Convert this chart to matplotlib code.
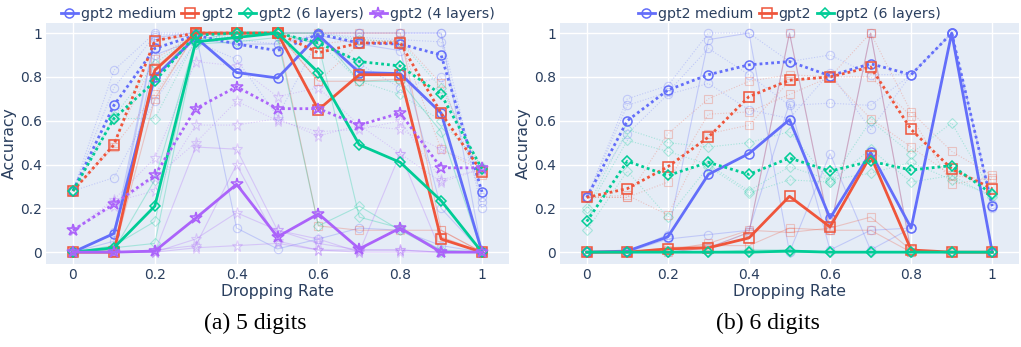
import matplotlib
matplotlib.use("Agg")
import matplotlib.pyplot as plt
from matplotlib.lines import Line2D

# ---------------- data ----------------
rates = [0.0, 0.1, 0.2, 0.3, 0.4, 0.5, 0.6, 0.7, 0.8, 0.9, 1.0]
tick_vals = [0, 0.2, 0.4, 0.6, 0.8, 1]
tick_labels = ["0", "0.2", "0.4", "0.6", "0.8", "1"]
model_names = ["gpt2 medium", "gpt2", "gpt2 (6 layers)", "gpt2 (4 layers)"]
model_colors = ["#636EFA", "#EF553B", "#00CC96", "#AB63FA"]
model_markers = ["o", "s", "D", "*"]

# (a) 5 digits - bold dotted (average) lines
a_med_dot = [0.28, 0.67, 0.93, 0.99, 0.95, 0.92, 0.995, 0.955, 0.95, 0.90, 0.275]
a_gpt2_dot = [0.28, 0.49, 0.965, 1.0, 1.0, 1.0, 0.91, 0.955, 0.955, 0.635, 0.365]
a_l6_dot = [0.28, 0.61, 0.78, 0.99, 1.0, 1.0, 0.955, 0.87, 0.85, 0.72, 0.38]
a_l4_dot = [0.10, 0.22, 0.35, 0.655, 0.755, 0.655, 0.655, 0.58, 0.635, 0.385, 0.385]
# (a) 5 digits - bold solid lines
a_med_sol = [0.0, 0.085, 0.80, 0.98, 0.82, 0.795, 0.99, 0.82, 0.815, 0.635, 0.0]
a_gpt2_sol = [0.0, 0.0, 0.83, 1.0, 1.0, 1.0, 0.65, 0.81, 0.81, 0.06, 0.0]
a_l6_sol = [0.0, 0.02, 0.21, 0.96, 0.98, 1.0, 0.82, 0.49, 0.41, 0.235, 0.0]
a_l4_sol = [0.0, 0.0, 0.005, 0.155, 0.31, 0.07, 0.175, 0.015, 0.11, 0.0, 0.0]

# (a) faint runs
a_med_faint_dot = [
    [0.28, 0.83, 1.0, 1.0, 1.0, 1.0, 1.0, 1.0, 1.0, 1.0, 0.23],
    [0.28, 0.75, 0.99, 1.0, 0.97, 0.95, 1.0, 0.98, 0.97, 0.96, 0.20],
    [0.28, 0.34, 0.69, 0.96, 0.88, 0.62, 0.97, 0.86, 0.75, 0.80, 0.25],
]
a_med_faint_sol = [
    [0.0, 0.09, 0.98, 1.0, 0.11, 0.015, 0.06, 0.11, 0.10, 0.03, 0.0],
    [0.0, 0.05, 0.97, 0.99, 1.0, 1.0, 1.0, 1.0, 1.0, 1.0, 0.0],
    [0.0, 0.0, 0.90, 0.97, 0.95, 0.95, 0.99, 0.95, 0.92, 0.20, 0.0],
]
a_gpt2_faint_dot = [
    [0.28, 0.50, 0.88, 1.0, 1.0, 1.0, 0.78, 0.95, 0.97, 0.77, 0.35],
    [0.28, 0.48, 0.72, 0.99, 1.0, 1.0, 0.95, 0.97, 0.96, 0.47, 0.37],
]
a_gpt2_faint_sol = [
    [0.0, 0.0, 0.84, 1.0, 1.0, 1.0, 0.12, 0.10, 0.10, 0.10, 0.0],
    [0.0, 0.0, 0.70, 1.0, 1.0, 1.0, 0.78, 0.78, 0.79, 0.07, 0.0],
    [0.0, 0.0, 0.80, 1.0, 1.0, 1.0, 1.0, 1.0, 1.0, 0.10, 0.0],
]
a_l6_faint_dot = [
    [0.28, 0.61, 0.61, 0.97, 0.99, 1.0, 0.96, 0.78, 0.72, 0.60, 0.39],
    [0.28, 0.62, 0.86, 1.0, 1.0, 1.0, 1.0, 0.97, 0.96, 0.75, 0.38],
]
a_l6_faint_sol = [
    [0.0, 0.02, 0.04, 0.95, 0.96, 0.98, 0.12, 0.21, 0.10, 0.0, 0.0],
    [0.0, 0.03, 0.14, 0.96, 0.98, 1.0, 0.95, 0.16, 0.11, 0.01, 0.0],
    [0.0, 0.01, 0.33, 0.97, 1.0, 1.0, 1.0, 0.78, 0.78, 0.55, 0.0],
]
a_l4_faint_dot = [
    [0.10, 0.24, 0.43, 0.87, 0.85, 0.71, 0.75, 0.58, 0.56, 0.47, 0.39],
    [0.10, 0.23, 0.28, 0.58, 0.58, 0.61, 0.53, 0.58, 0.45, 0.32, 0.38],
    [0.10, 0.21, 0.34, 0.50, 0.69, 0.60, 0.55, 0.56, 0.60, 0.33, 0.38],
]
a_l4_faint_sol = [
    [0.0, 0.0, 0.0, 0.48, 0.47, 0.10, 0.06, 0.0, 0.45, 0.0, 0.0],
    [0.0, 0.0, 0.0, 0.06, 0.18, 0.10, 0.04, 0.01, 0.01, 0.0, 0.0],
    [0.0, 0.0, 0.01, 0.03, 0.40, 0.05, 0.01, 0.01, 0.01, 0.0, 0.0],
    [0.0, 0.0, 0.0, 0.02, 0.03, 0.04, 0.01, 0.0, 0.0, 0.0, 0.0],
]

# (b) 6 digits - bold dotted lines
b_med_dot = [0.25, 0.60, 0.74, 0.81, 0.855, 0.87, 0.805, 0.86, 0.81, 1.0, 0.21]
b_gpt2_dot = [0.25, 0.29, 0.39, 0.525, 0.71, 0.785, 0.80, 0.845, 0.56, 0.38, 0.29]
b_l6_dot = [0.14, 0.415, 0.35, 0.41, 0.355, 0.43, 0.37, 0.415, 0.375, 0.395, 0.265]
# (b) 6 digits - bold solid lines
b_med_sol = [0.0, 0.005, 0.07, 0.355, 0.45, 0.605, 0.155, 0.455, 0.11, 1.0, 0.0]
b_gpt2_sol = [0.0, 0.0, 0.015, 0.02, 0.065, 0.255, 0.115, 0.44, 0.01, 0.0, 0.0]
b_l6_sol = [0.0, 0.0, 0.0, 0.0, 0.0, 0.005, 0.0, 0.0, 0.0, 0.0, 0.0]

# (b) faint runs
b_med_faint_dot = [
    [0.25, 0.70, 0.76, 1.0, 1.0, 0.87, 0.90, 0.81, 0.81, 1.0, 0.21],
    [0.25, 0.67, 0.73, 0.93, 0.81, 0.67, 0.68, 0.67, 0.81, 1.0, 0.20],
    [0.25, 0.54, 0.72, 0.77, 0.65, 0.61, 0.82, 0.56, 0.81, 1.0, 0.22],
]
b_med_faint_sol = [
    [0.0, 0.0, 0.08, 0.97, 1.0, 0.0, 0.45, 0.01, 0.11, 1.0, 0.0],
    [0.0, 0.0, 0.06, 0.08, 0.10, 0.68, 0.01, 0.10, 0.11, 1.0, 0.0],
    [0.0, 0.0, 0.0, 0.02, 0.09, 1.0, 0.10, 1.0, 0.0, 0.0, 0.0],
]
b_gpt2_faint_dot = [
    [0.25, 0.25, 0.54, 0.70, 0.78, 0.81, 0.80, 1.0, 0.64, 0.46, 0.35],
    [0.25, 0.25, 0.32, 0.63, 0.64, 0.72, 0.80, 0.80, 0.62, 0.31, 0.34],
    [0.25, 0.26, 0.17, 0.54, 0.58, 0.78, 0.80, 0.61, 0.48, 0.35, 0.33],
]
b_gpt2_faint_sol = [
    [0.0, 0.0, 0.01, 0.04, 0.10, 0.09, 0.11, 0.16, 0.01, 0.0, 0.0],
    [0.0, 0.0, 0.02, 0.03, 0.03, 0.11, 0.10, 0.10, 0.0, 0.0, 0.0],
    [0.0, 0.0, 0.0, 0.02, 0.09, 1.0, 0.10, 1.0, 0.0, 0.0, 0.0],
]
b_l6_faint_dot = [
    [0.20, 0.56, 0.50, 0.48, 0.50, 0.55, 0.32, 0.60, 0.45, 0.59, 0.27],
    [0.10, 0.37, 0.16, 0.39, 0.27, 0.33, 0.32, 0.47, 0.32, 0.35, 0.25],
    [0.19, 0.51, 0.46, 0.40, 0.28, 0.39, 0.33, 0.36, 0.41, 0.33, 0.26],
]
b_l6_faint_sol = [
    [0.0, 0.0, 0.0, 0.0, 0.01, 0.01, 0.0, 0.0, 0.0, 0.0, 0.0],
    [0.0, 0.0, 0.0, 0.0, 0.0, 0.0, 0.0, 0.0, 0.0, 0.0, 0.0],
]

panel_a = [
    (a_med_dot, a_med_sol, a_med_faint_dot, a_med_faint_sol),
    (a_gpt2_dot, a_gpt2_sol, a_gpt2_faint_dot, a_gpt2_faint_sol),
    (a_l6_dot, a_l6_sol, a_l6_faint_dot, a_l6_faint_sol),
    (a_l4_dot, a_l4_sol, a_l4_faint_dot, a_l4_faint_sol),
]
panel_b = [
    (b_med_dot, b_med_sol, b_med_faint_dot, b_med_faint_sol),
    (b_gpt2_dot, b_gpt2_sol, b_gpt2_faint_dot, b_gpt2_faint_sol),
    (b_l6_dot, b_l6_sol, b_l6_faint_dot, b_l6_faint_sol),
]

# ---------------- style ----------------
BG = "#E5ECF6"
TXT = "#2a3f5f"
DOT = (0, (1, 1.1))
FONT = ["DejaVu Sans"]

fig = plt.figure(figsize=(10.21, 3.47), dpi=100)
W, H = 1021.0, 347.0


def mk_size(m, base):
    return base * (1.35 if m == "*" else (0.85 if m == "D" else 1.0))


def draw_panel(ax, data, n_models):
    ax.set_facecolor(BG)
    for s in ax.spines.values():
        s.set_visible(False)
    ax.set_xlim(-0.066, 1.066)
    ax.set_ylim(-0.054, 1.046)
    ax.set_xticks(tick_vals)
    ax.set_xticklabels(tick_labels)
    ax.set_yticks(tick_vals)
    ax.set_yticklabels(tick_labels)
    ax.grid(True, color="white", linewidth=1.0)
    ax.set_axisbelow(True)
    ax.tick_params(length=0, labelsize=10, colors=TXT, pad=3)
    for lab in ax.get_xticklabels() + ax.get_yticklabels():
        lab.set_family(FONT)
    # faint lines first
    for i in range(n_models):
        dot, sol, fdots, fsols = data[i]
        c, m = model_colors[i], model_markers[i]
        for y in fdots:
            ax.plot(rates, y, color=c, alpha=0.28, lw=0.8, ls=(0, (1, 1.5)),
                    marker=m, ms=mk_size(m, 6), mfc="none", mew=0.8)
        for y in fsols:
            ax.plot(rates, y, color=c, alpha=0.28, lw=0.8, ls="-",
                    marker=m, ms=mk_size(m, 6), mfc="none", mew=0.8)
    # bold lines
    for i in range(n_models):
        dot, sol, fdots, fsols = data[i]
        c, m = model_colors[i], model_markers[i]
        ax.plot(rates, dot, color=c, lw=2.0, ls=DOT,
                marker=m, ms=mk_size(m, 6.5), mfc="none", mew=1.1)
        ax.plot(rates, sol, color=c, lw=2.0, ls="-",
                marker=m, ms=mk_size(m, 6.5), mfc="none", mew=1.1)
    ax.set_xlabel("Dropping Rate", fontsize=11.3, color=TXT, family=FONT, labelpad=1)
    ax.set_ylabel("Accuracy", fontsize=11.3, color=TXT, family=FONT, labelpad=2)
    handles = [Line2D([0], [0], color=model_colors[i], lw=2.0, marker=model_markers[i],
                      ms=mk_size(model_markers[i], 6.5), mfc="none", mew=1.1)
               for i in range(n_models)]
    leg = ax.legend(handles, model_names[:n_models], loc="lower center",
                    bbox_to_anchor=(0.5, 0.985), ncol=n_models, frameon=False,
                    handlelength=1.2, handletextpad=0.2, columnspacing=0.4,
                    borderaxespad=0.0, prop={"family": FONT, "size": 10.2})
    for t in leg.get_texts():
        t.set_color(TXT)


ax1 = fig.add_axes([46 / W, 83 / H, (509 - 46) / W, 241 / H])
draw_panel(ax1, panel_a, 4)
ax2 = fig.add_axes([560 / W, 83 / H, (1019 - 560) / W, 241 / H])
draw_panel(ax2, panel_b, 3)

fig.text(255 / W, 1 - 323 / H, "(a) 5 digits", ha="center", va="center",
         fontsize=17, family=["Liberation Serif", "DejaVu Serif"], color="black")
fig.text(768 / W, 1 - 323 / H, "(b) 6 digits", ha="center", va="center",
         fontsize=17, family=["Liberation Serif", "DejaVu Serif"], color="black")

fig.savefig("out.png", dpi=100, facecolor="white")
